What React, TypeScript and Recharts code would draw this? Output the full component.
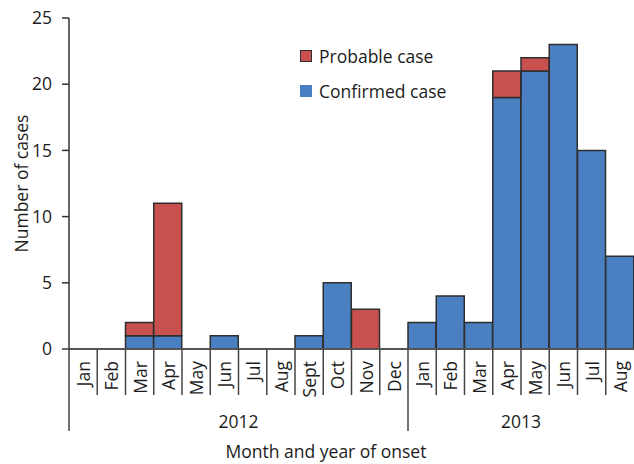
import { Bar, BarChart, XAxis, YAxis } from 'recharts'

const months = ['Jan', 'Feb', 'Mar', 'Apr', 'May', 'Jun', 'Jul', 'Aug', 'Sept', 'Oct', 'Nov', 'Dec', 'Jan', 'Feb', 'Mar', 'Apr', 'May', 'Jun', 'Jul', 'Aug']
const years = ['2012', '2013']
const yearStart = [0, 12]
const confirmed = [0, 0, 1, 1, 0, 1, 0, 0, 1, 5, 0, 0, 2, 4, 2, 19, 21, 23, 15, 7]
const probable = [0, 0, 1, 10, 0, 0, 0, 0, 0, 0, 3, 0, 0, 0, 0, 2, 1, 0, 0, 0]
const yTicks = [0, 5, 10, 15, 20, 25]

const data = months.map((m, i) => ({ key: `${m}-${i}`, confirmed: confirmed[i], probable: probable[i] }))

const FONT = '"Open Sans", "Noto Sans", sans-serif'
const FS = 17.5
const INK = '#1c1c1c'
const W = 634
const H = 464
const LEFT = 69
const TOP = 18
const BOTTOM = 115
const BAND = (W - LEFT) / months.length
const BLUE = '#4a80c1'
const RED = '#c8504e'
const EDGE = '#2e2e2e'

function MonthTick(props: any) {
  const { x, y, index } = props
  const left = x - BAND / 2
  const isYearStart = yearStart.includes(index)
  const yearIdx = yearStart.indexOf(index)
  let yearLabel = null
  if (yearIdx >= 0) {
    const first = yearStart[yearIdx]
    const last = yearIdx + 1 < yearStart.length ? yearStart[yearIdx + 1] - 1 : months.length - 1
    const cx = left + ((last - first + 1) * BAND) / 2
    yearLabel = (
      <text x={cx} y={y + 79} textAnchor="middle" fontSize={FS} fontFamily={FONT} fill={INK}>
        {years[yearIdx]}
      </text>
    )
  }
  return (
    <g>
      <line x1={left} x2={left} y1={y} y2={isYearStart ? y + 82 : y + 46} stroke="#444" strokeWidth={1.5} />
      <text
        x={x}
        y={y + 12}
        transform={`rotate(-90 ${x} ${y + 12})`}
        textAnchor="end"
        dominantBaseline="central"
        fontSize={FS}
        fontFamily={FONT}
        fill={INK}
      >
        {months[index]}
      </text>
      {yearLabel}
      {index === 0 && (
        <text x={326} y={y + 109} textAnchor="middle" fontSize={FS} fontFamily={FONT} fill={INK}>
          Month and year of onset
        </text>
      )}
    </g>
  )
}

function LegendBox() {
  const items = [
    { label: 'Probable case', color: RED, stroke: EDGE },
    { label: 'Confirmed case', color: BLUE, stroke: BLUE },
  ]
  return (
    <div style={{ position: 'absolute', left: 300, top: 38, fontFamily: FONT, fontSize: FS, color: INK }}>
      {items.map((it) => (
        <div key={it.label} style={{ display: 'flex', alignItems: 'center', height: 35 }}>
          <span
            style={{ display: 'inline-block', width: 10, height: 10, background: it.color, border: `1px solid ${it.stroke}`, marginRight: 7 }}
          />
          {it.label}
        </div>
      ))}
    </div>
  )
}

export default function App() {
  return (
    <div style={{ position: 'absolute', left: 0, top: 0, width: W, height: H, background: '#fff' }}>
      <BarChart width={W} height={H} data={data} margin={{ top: TOP, right: 0, left: 0, bottom: 0 }} barCategoryGap={0}>
        <XAxis
          dataKey="key"
          tick={<MonthTick />}
          interval={0}
          tickLine={false}
          tickSize={0}
          tickMargin={0}
          axisLine={{ stroke: '#555', strokeWidth: 2 }}
          height={BOTTOM}
        />
        <YAxis
          width={LEFT}
          domain={[0, 25]}
          ticks={yTicks}
          tickSize={7}
          tickMargin={10}
          tick={{ fontSize: FS, fontFamily: FONT, fill: INK }}
          tickLine={{ stroke: '#333', strokeWidth: 1.5 }}
          axisLine={{ stroke: '#333', strokeWidth: 1.5 }}
          label={{
            value: 'Number of cases',
            angle: -90,
            position: 'insideLeft',
            dx: 17,
            style: { fontSize: FS, fontFamily: FONT, fill: INK, textAnchor: 'middle' },
          }}
        />
        <Bar dataKey="confirmed" stackId="a" fill={BLUE} stroke={EDGE} strokeWidth={1.5} isAnimationActive={false} />
        <Bar dataKey="probable" stackId="a" fill={RED} stroke={EDGE} strokeWidth={1.5} isAnimationActive={false} />
      </BarChart>
      <LegendBox />
    </div>
  )
}
